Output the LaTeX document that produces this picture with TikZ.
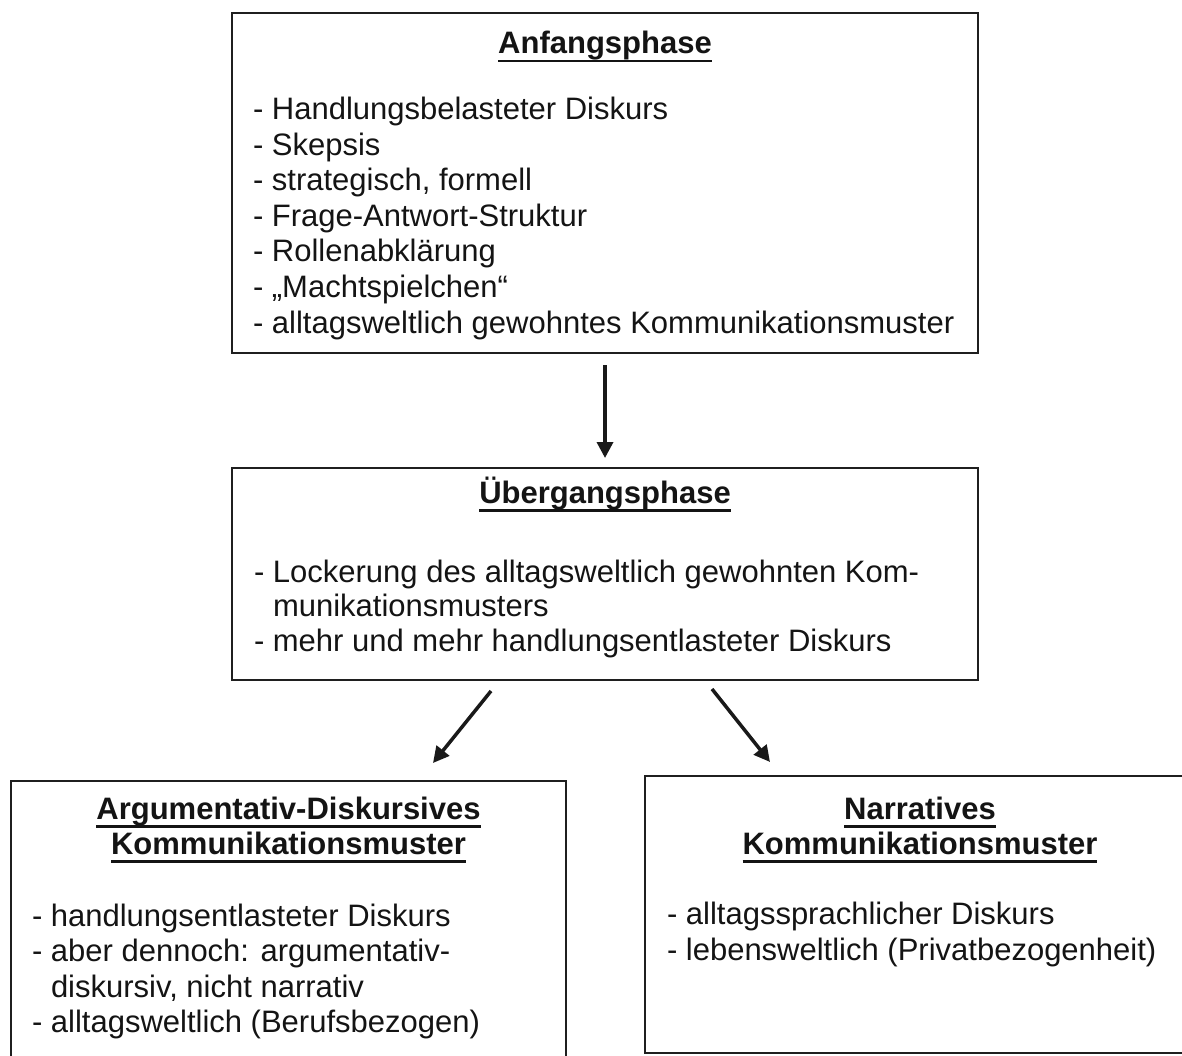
\documentclass[tikz,border=0pt]{standalone}
\usepackage{fontspec}
\setmainfont{Liberation Sans}
\usetikzlibrary{arrows.meta}
\newcommand\ulbox[1]{\setbox0\hbox{#1}\rlap{\rule[-8.5pt]{\wd0}{2.5pt}}\box0}
\begin{document}
\begin{tikzpicture}[x=1pt,y=-1pt,
  box/.style={draw=black!88, line width=2.5pt, rectangle, inner sep=0pt, outer sep=0pt},
  txt/.style={inner sep=0pt, outer sep=0pt, anchor=base west, font=\fontsize{31}{35}\selectfont, text=black!92},
  ttl/.style={inner sep=0pt, outer sep=0pt, anchor=base, font=\fontsize{31}{35}\selectfont\bfseries, text=black!92},
  arr/.style={line width=3.5pt, draw=black!90, -{Triangle[length=16pt,width=16pt]}}]
\useasboundingbox[fill=white] (0,0) rectangle (1182,1056);
\clip (0,0) rectangle (1182,1056);

% boxes
\node[box, minimum width=746pt, minimum height=340pt] (top) at (605,183) {};
\node[box, minimum width=746pt, minimum height=212pt] (mid) at (605,574) {};
\node[box, minimum width=555pt, minimum height=299pt] (left) at (288.5,930.5) {};
\node[box, minimum width=550pt, minimum height=277pt] (right) at (920,914.5) {};

% top box text
\node[ttl] (t0) at (605,54) {\ulbox{Anfangsphase}};
\node[txt] (t1) at (253,120) {- Handlungsbelasteter Diskurs};
\node[txt] (t2) at (253,155.5) {- Skepsis};
\node[txt] (t3) at (253,191) {- strategisch, formell};
\node[txt] (t4) at (253,226.5) {- Frage-Antwort-Struktur};
\node[txt] (t5) at (253,262) {- Rollenabklärung};
\node[txt] (t6) at (253,297.5) {- „Machtspielchen“};
\node[txt] (t7) at (253,333) {- alltagsweltlich gewohntes Kommunikationsmuster};

% middle box text
\node[ttl] (m0) at (605,503) {\ulbox{Übergangsphase}};
\node[txt] (m1) at (254,582) {- Lockerung des alltagsweltlich gewohnten Kom-};
\node[txt] (m2) at (273,616) {munikationsmusters};
\node[txt] (m3) at (254,651) {- mehr und mehr handlungsentlasteter Diskurs};

% left box text
\node[ttl] (l0) at (288.5,819) {\ulbox{Argumentativ-Diskursives}};
\node[ttl] (l0b) at (288.5,854) {\ulbox{Kommunikationsmuster}};
\node[txt] (l1) at (32,926) {- handlungsentlasteter Diskurs};
\node[txt] (l2) at (32,961.5) {- aber dennoch: argumentativ-};
\node[txt] (l3) at (51,997) {diskursiv, nicht narrativ};
\node[txt] (l4) at (32,1032.5) {- alltagsweltlich (Berufsbezogen)};

% right box text
\node[ttl] (r0) at (920,819) {\ulbox{Narratives}};
\node[ttl] (r0b) at (920,854) {\ulbox{Kommunikationsmuster}};
\node[txt] (r1) at (667,924.5) {- alltagssprachlicher Diskurs};
\node[txt] (r2) at (667,960) {- lebensweltlich (Privatbezogenheit)};

% arrows
\draw[arr, shorten <=12pt, shorten >=10pt] (top.south) -- (mid.north);
\coordinate (ls) at (491,691);
\coordinate (le) at (433,763);
\coordinate (rs) at (712,689);
\coordinate (re) at (770,762);
\draw[arr] (ls) -- (le);
\draw[arr] (rs) -- (re);
\end{tikzpicture}
\end{document}
